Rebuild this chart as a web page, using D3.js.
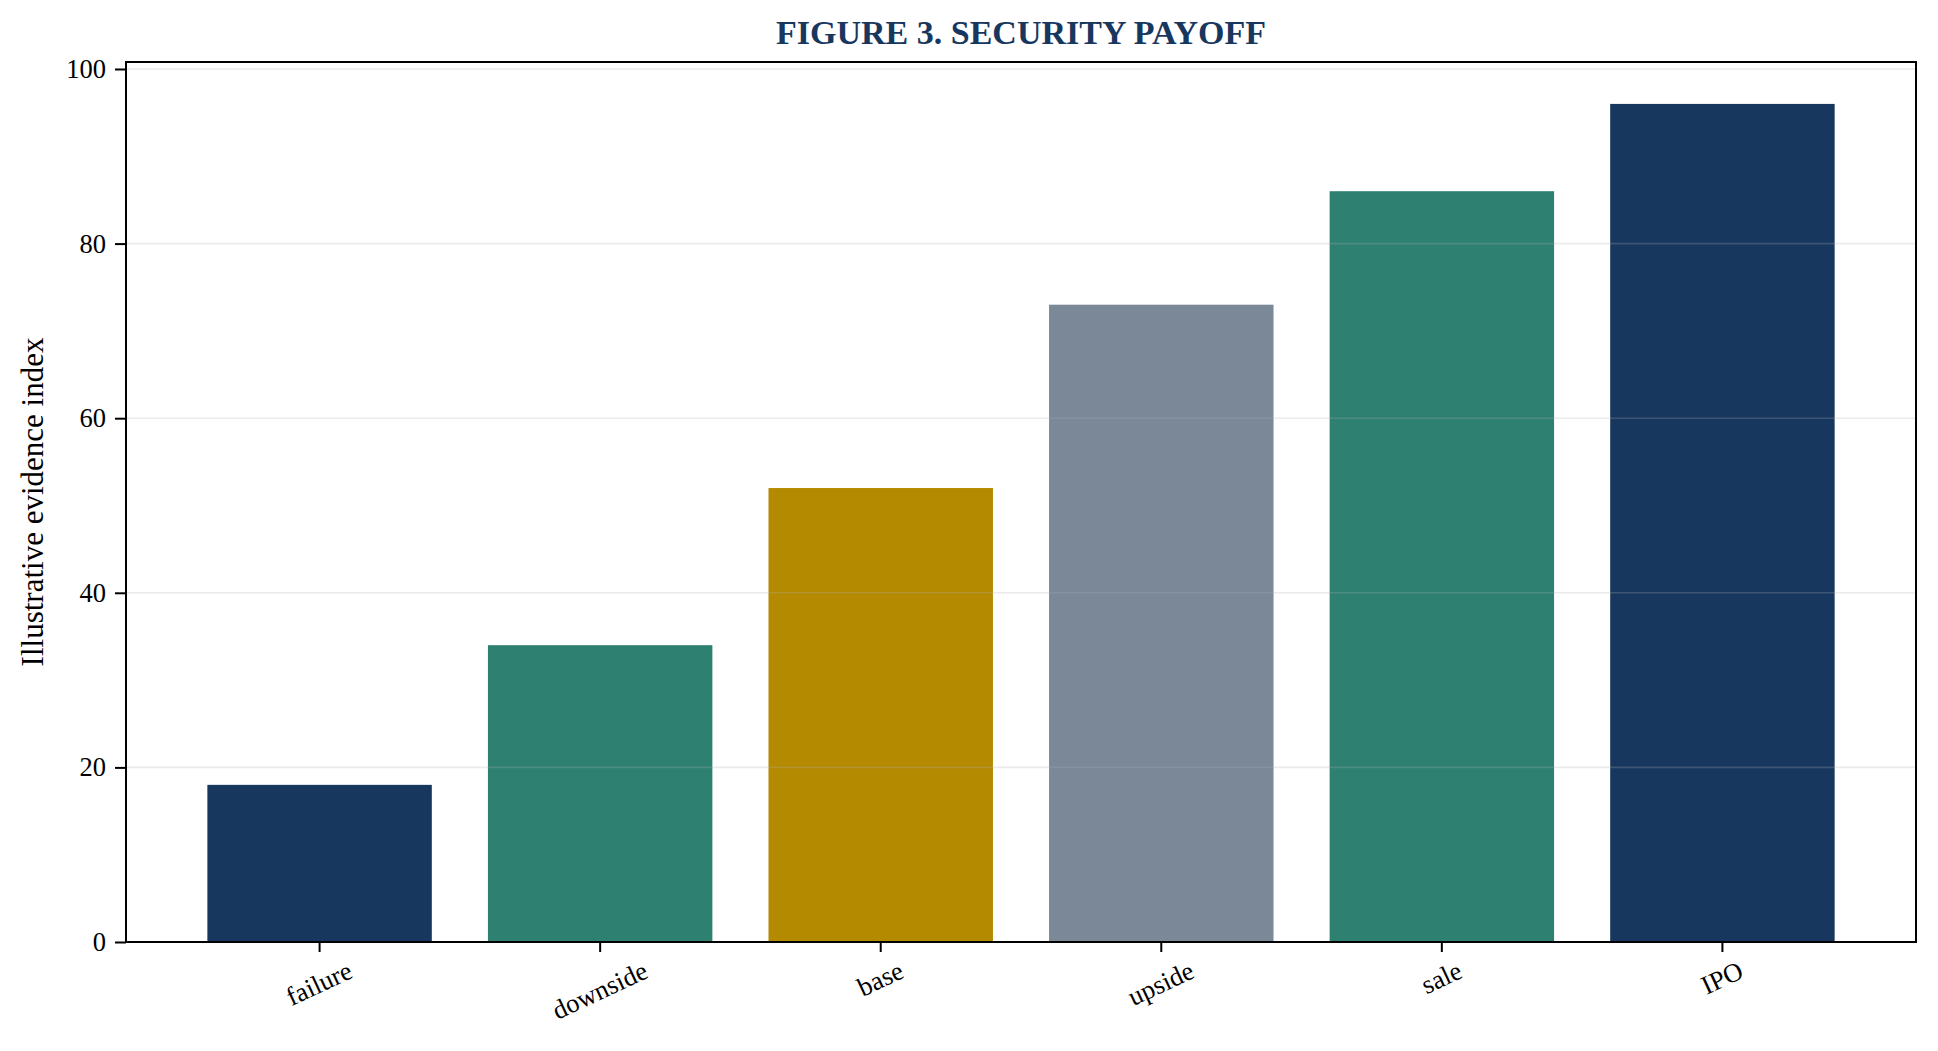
<!DOCTYPE html>
<html>
<head>
<meta charset="utf-8">
<script src="https://cdn.jsdelivr.net/npm/d3@7"></script>
<style>
  body { margin: 0; background: #fff; }
  svg { display: block; font-family: "Liberation Serif", "Times New Roman", serif; }
</style>
</head>
<body>
<div id="chart"></div>
<script>
// data
const scenarios = ["failure", "downside", "base", "upside", "sale", "IPO"];
const evidence = [18, 34, 52, 73, 86, 96];
const barColors = ["#18375E", "#2E8070", "#B38A00", "#7B8898", "#2E8070", "#18375E"];
const yTicks = [0, 20, 40, 60, 80, 100];

const width = 1938, height = 1051;
const margin = { top: 62, right: 22, bottom: 109, left: 126 };
const plotW = width - margin.left - margin.right;
const plotH = height - margin.top - margin.bottom;

const svg = d3.select('#chart')
    .append('svg')
    .attr('width', width)
    .attr('height', height);

// title
svg.append('text')
    .attr('x', margin.left + plotW / 2)
    .attr('y', 44)
    .attr('text-anchor', 'middle')
    .attr('font-size', 34)
    .attr('font-weight', 'bold')
    .attr('fill', '#18375E')
    .text('FIGURE 3. SECURITY PAYOFF');

const g = svg.append('g')
    .attr('transform', `translate(${margin.left},${margin.top})`);

const x = d3.scaleBand()
    .domain(scenarios)
    .range([0, plotW])
    .paddingInner(0.2)
    .paddingOuter(0.29);

const y = d3.scaleLinear()
    .domain([0, d3.max(evidence) * 1.05])
    .range([plotH, 0]);

const rows = scenarios.map((s, i) => ({ name: s, value: evidence[i], color: barColors[i] }));

// bars
g.selectAll('.bar')
    .data(rows)
    .join('rect')
    .attr('class', 'bar')
    .attr('x', d => x(d.name))
    .attr('y', d => y(d.value))
    .attr('width', x.bandwidth())
    .attr('height', d => plotH - y(d.value))
    .attr('fill', d => d.color);

// horizontal grid, drawn over the bars like the original
g.selectAll('.grid')
    .data(yTicks)
    .join('line')
    .attr('class', 'grid')
    .attr('x1', 0)
    .attr('x2', plotW)
    .attr('y1', d => y(d))
    .attr('y2', d => y(d))
    .attr('stroke', '#b0b0b0')
    .attr('stroke-opacity', 0.25)
    .attr('stroke-width', 1.6);

// y axis
const yAxis = g.append('g')
    .call(d3.axisLeft(y).tickValues(yTicks).tickSize(11).tickPadding(9));
yAxis.select('.domain').remove();
yAxis.selectAll('.tick line').attr('stroke', '#000').attr('stroke-width', 2);
yAxis.selectAll('.tick text')
    .attr('font-size', 26.5)
    .attr('font-family', '"Liberation Serif", serif')
    .attr('fill', '#000');

// x axis
const xAxis = g.append('g')
    .attr('transform', `translate(0,${plotH})`)
    .call(d3.axisBottom(x).tickSize(10).tickPadding(0));
xAxis.select('.domain').remove();
xAxis.selectAll('.tick line').attr('stroke', '#000').attr('stroke-width', 2);

const tickFs = 26.5;
const rot = 25 * Math.PI / 180;
xAxis.selectAll('.tick text')
    .attr('font-size', tickFs)
    .attr('font-family', '"Liberation Serif", serif')
    .attr('fill', '#000')
    .attr('text-anchor', 'middle')
    .attr('y', 0)
    .attr('dy', '0.3em')
    .attr('transform', function () {
        const w = this.getComputedTextLength();
        const h = tickFs * 1.15;
        const boxH = w * Math.sin(rot) + h * Math.cos(rot);
        const cy = 14 + boxH / 2;
        return `translate(0,${cy}) rotate(-25)`;
    });

// frame
g.append('rect')
    .attr('x', 0)
    .attr('y', 0)
    .attr('width', plotW)
    .attr('height', plotH)
    .attr('fill', 'none')
    .attr('stroke', '#000')
    .attr('stroke-width', 2);

// y label
svg.append('text')
    .attr('transform', `translate(43,${margin.top + plotH / 2}) rotate(-90)`)
    .attr('text-anchor', 'middle')
    .attr('font-size', 31)
    .attr('fill', '#000')
    .text('Illustrative evidence index');
</script>
</body>
</html>
